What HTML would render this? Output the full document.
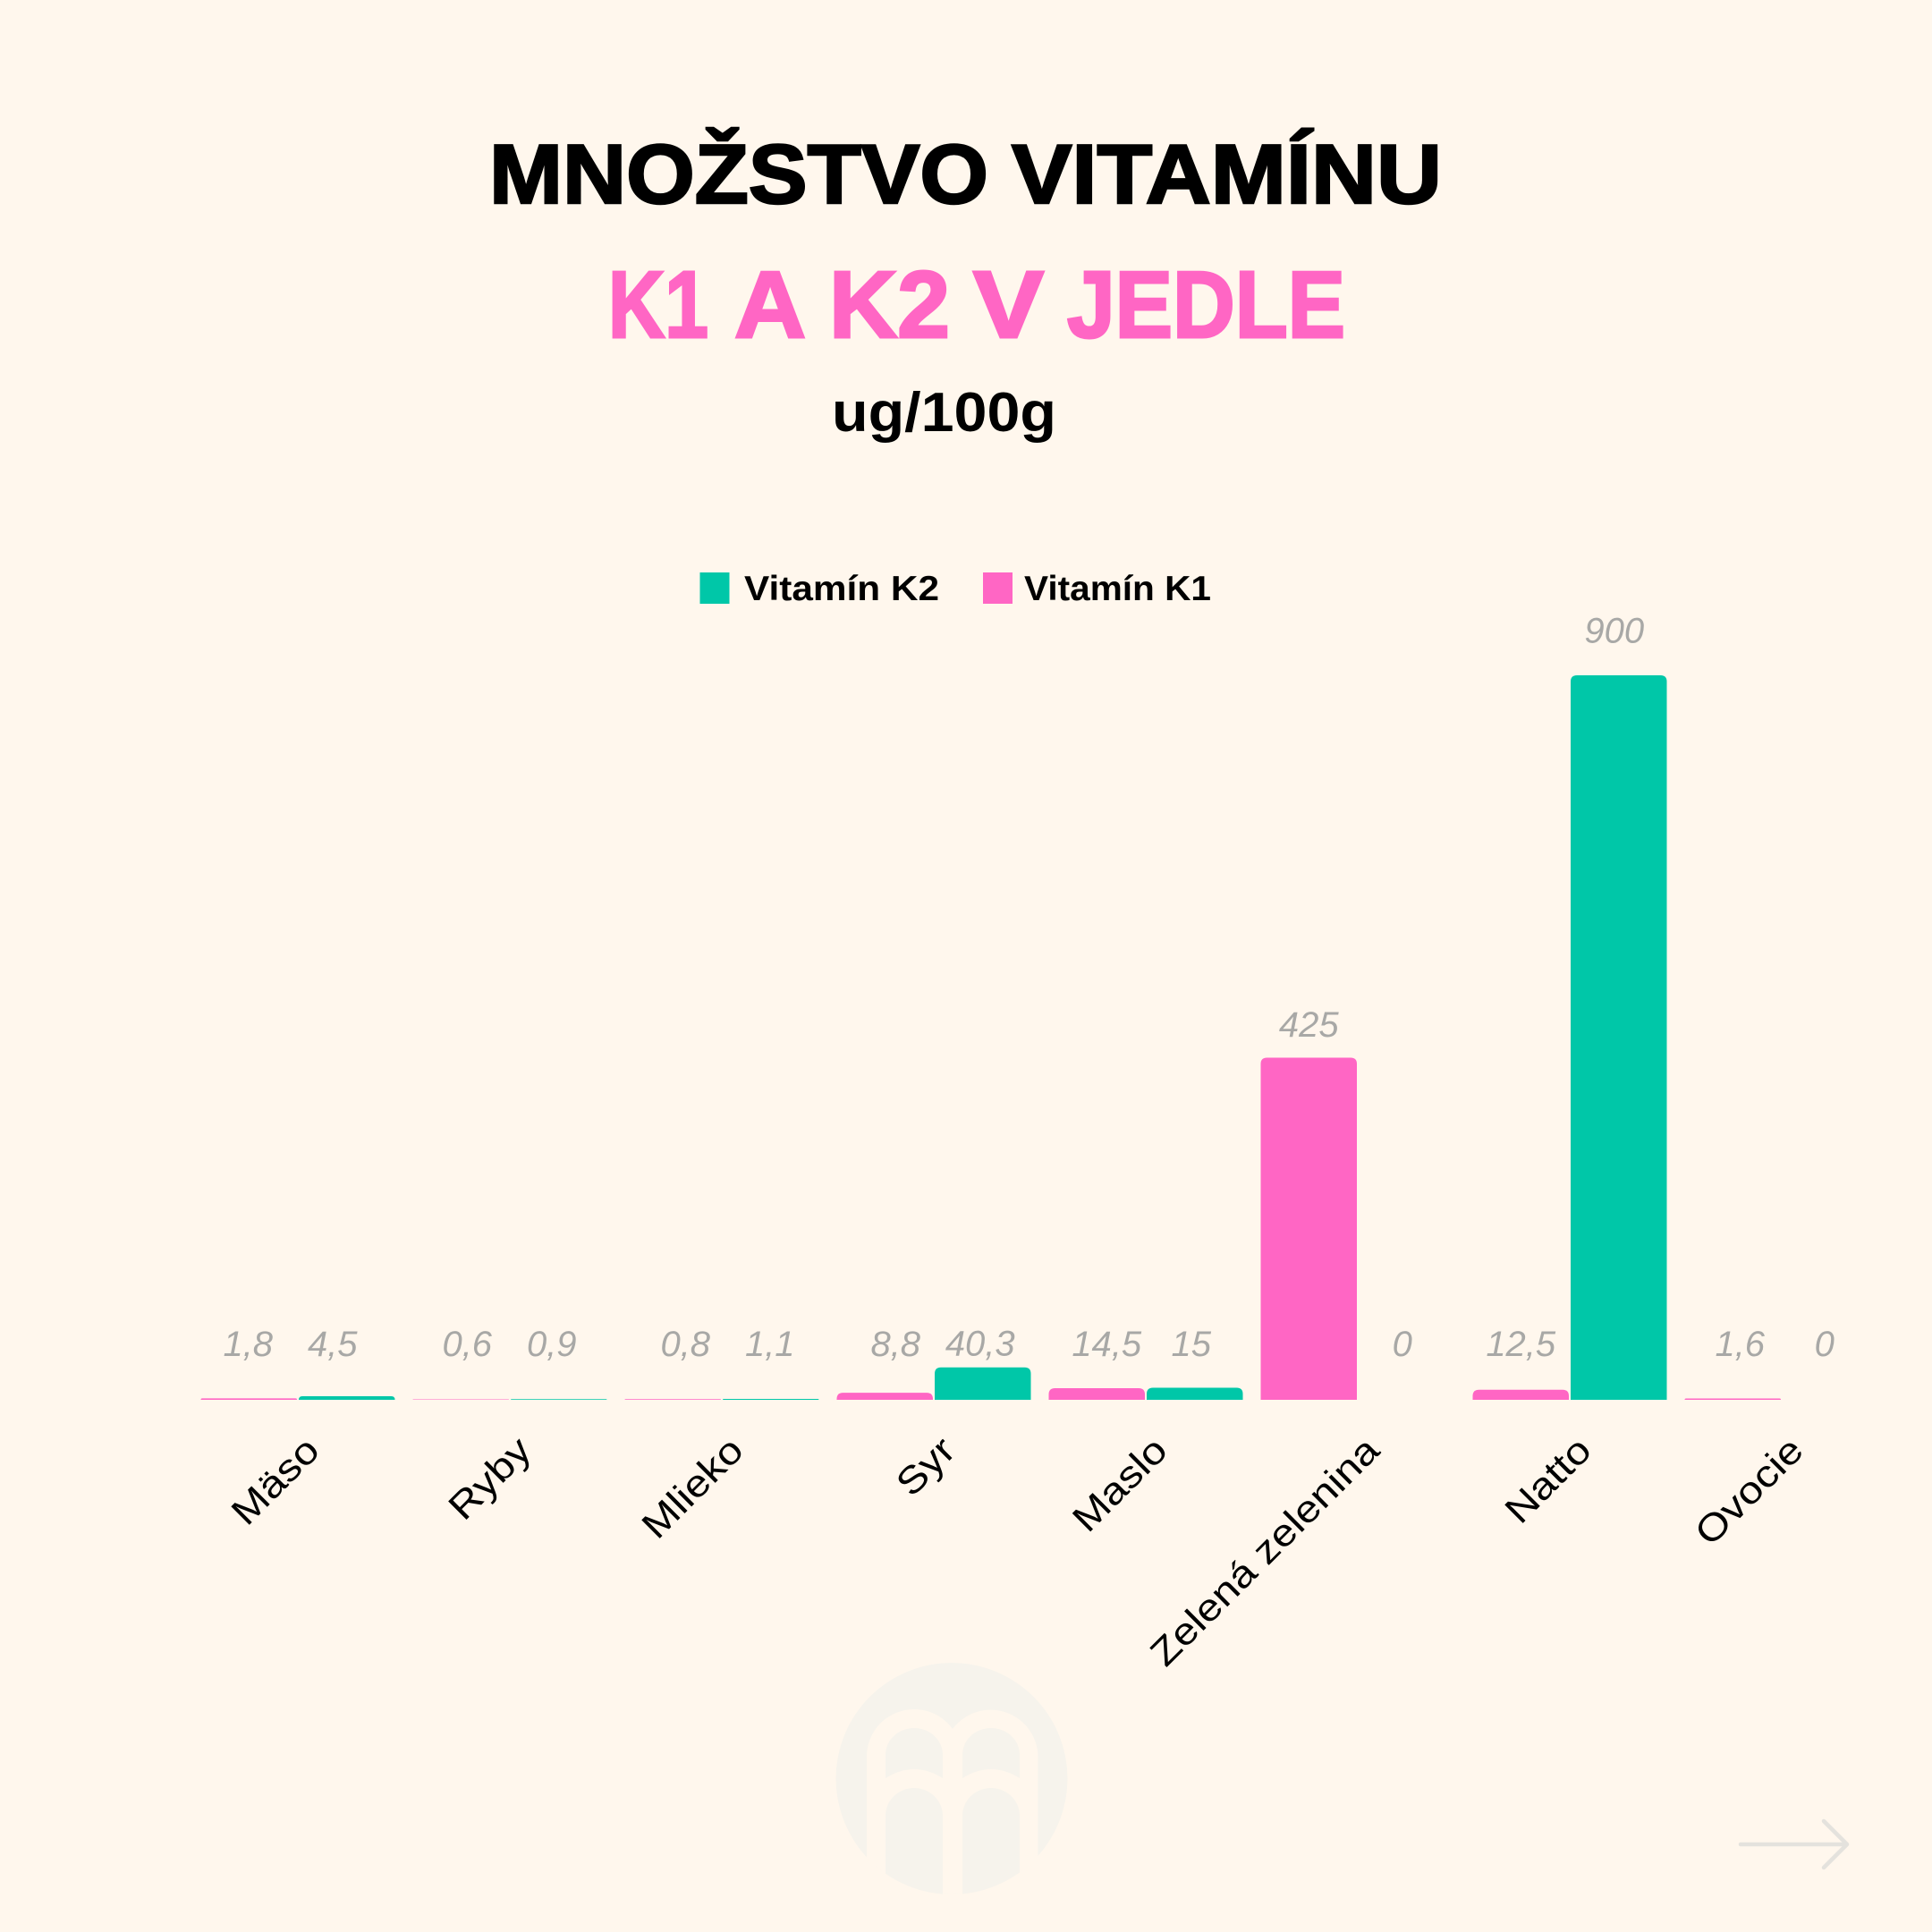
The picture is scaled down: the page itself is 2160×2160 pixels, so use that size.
<!DOCTYPE html>
<html lang="sk">
<head>
<meta charset="utf-8">
<title>Množstvo vitamínu K1 a K2 v jedle</title>
<style>
  html, body { margin: 0; padding: 0; background: #fff7ed; }
  svg { display: block; font-family: "Liberation Sans", sans-serif; }
</style>
</head>
<body>
<svg id="chart" xmlns="http://www.w3.org/2000/svg" width="2160" height="2160" viewBox="0 0 2160 2160">
  <defs>
    <clipPath id="logo-clip"><circle cx="1064" cy="1988.5" r="129.5"/></clipPath>
  </defs>
  <rect x="0" y="0" width="2160" height="2160" fill="#fff7ed"/>

  <text y="227" font-size="94" font-weight="700" fill="#000" stroke="#000" stroke-width="2.5"><tspan x="547" textLength="558" lengthAdjust="spacingAndGlyphs">MNOŽSTVO</tspan> <tspan x="1131" textLength="481" lengthAdjust="spacingAndGlyphs">VITAMÍNU</tspan></text>
  <text y="377" font-size="106" font-weight="700" fill="#ff66c4" stroke="#ff66c4" stroke-width="3"><tspan x="680" textLength="112" lengthAdjust="spacingAndGlyphs">K1</tspan> <tspan x="821" textLength="76" lengthAdjust="spacingAndGlyphs">A</tspan> <tspan x="927" textLength="135" lengthAdjust="spacingAndGlyphs">K2</tspan> <tspan x="1088" textLength="79" lengthAdjust="spacingAndGlyphs">V</tspan> <tspan x="1193" textLength="311" lengthAdjust="spacingAndGlyphs">JEDLE</tspan></text>
  <text x="930" y="482" font-size="62" font-weight="700" fill="#000" textLength="251" lengthAdjust="spacingAndGlyphs">ug/100g</text>

  <g>
    <rect x="782.5" y="640" width="33" height="35" fill="#00c7a8"/>
    <text x="832" y="671" font-size="39" font-weight="700" fill="#000" textLength="218" lengthAdjust="spacingAndGlyphs">Vitamín K2</text>
    <rect x="1099" y="640" width="33" height="35" fill="#ff66c4"/>
    <text x="1145" y="671" font-size="39" font-weight="700" fill="#000" textLength="209" lengthAdjust="spacingAndGlyphs">Vitamín K1</text>
  </g>

  <g id="bars"></g>
  <g id="value-labels"></g>
  <g id="x-axis"></g>

  <g>
    <g clip-path="url(#logo-clip)">
      <circle cx="1064" cy="1988.5" r="129.5" fill="#f6f3ec"/>
      <path fill="#fff7ed" d="M969 2130 V1965 A53 53 0 0 1 1065 1933 A53 53 0 0 1 1160.5 1965 V2130 Z"/>
      <path fill="#f6f3ec" d="M990 1988 V1962 A32 30 0 0 1 1054 1962 V1988 Q1022 1968 990 1988 Z"/>
      <path fill="#f6f3ec" d="M1076 1988 V1962 A32 30 0 0 1 1140 1962 V1988 Q1108 1968 1076 1988 Z"/>
      <path fill="#f6f3ec" d="M990 2030 A32 31 0 0 1 1054 2030 V2130 H990 Z"/>
      <path fill="#f6f3ec" d="M1076 2030 A32 31 0 0 1 1140 2030 V2130 H1076 Z"/>
    </g>
  </g>

  <g fill="none" stroke="#e4e2dd" stroke-width="4.5" stroke-linecap="round" stroke-linejoin="round">
    <path d="M1946 2062 H2063"/>
    <path d="M2039 2036 L2065 2062 L2039 2088"/>
  </g>
</svg>

<script>
// ---- chart data ----
const categories = ["Mäso", "Ryby", "Mlieko", "Syr", "Maslo", "Zelená zelenina", "Natto", "Ovocie"];
const vitaminK1 = [1.8, 0.6, 0.8, 8.8, 14.5, 425, 12.5, 1.6];
const vitaminK2 = [4.5, 0.9, 1.1, 40.3, 15, 0, 900, 0];
const k1Labels = ["1,8", "0,6", "0,8", "8,8", "14,5", "425", "12,5", "1,6"];
const k2Labels = ["4,5", "0,9", "1,1", "40,3", "15", "0", "900", "0"];

// ---- hand-placed label nudges from the design (not data) ----
const k1LabelNudge = [-1, 7, 14, 12, 11, 0, 0, 8];
const k2LabelNudge = [-16, -8, -1, -3, -4, -5, -5, -7];

// ---- layout ----
const SVG_NS = "http://www.w3.org/2000/svg";
const plotLeft = 215, bandStep = 237, barWidth = 107.5, barGap = 2, barPad = 9.5;
const baselineY = 1565, pxPerUnit = 0.9, radius = 7;
const lowLabelY = 1516;

function xBand(i) { return plotLeft + i * bandStep; }
function yVal(v) { return baselineY - v * pxPerUnit; }
function barX(i, s) { return xBand(i) + barPad + s * (barWidth + barGap); }

function barPath(x, v) {
  const top = yVal(v), h = baselineY - top, r = Math.min(radius, h);
  return "M" + x + " " + baselineY + " V" + (top + r) +
    " Q" + x + " " + top + " " + (x + r) + " " + top +
    " H" + (x + barWidth - r) +
    " Q" + (x + barWidth) + " " + top + " " + (x + barWidth) + " " + (top + r) +
    " V" + baselineY + " Z";
}

const barsGroup = document.getElementById("bars");
const labelsGroup = document.getElementById("value-labels");
const axisGroup = document.getElementById("x-axis");

function addBar(i, s, v, color, name) {
  const p = document.createElementNS(SVG_NS, "path");
  p.setAttribute("d", barPath(barX(i, s), v));
  p.setAttribute("fill", color);
  
  
  barsGroup.appendChild(p);
}

function addValueLabel(i, s, v, text, nudge, name) {
  const t = document.createElementNS(SVG_NS, "text");
  const top = yVal(v);
  const y = Math.min(lowLabelY, top - 12 - 0.03 * (baselineY - top));
  t.setAttribute("x", barX(i, s) + barWidth / 2 + nudge);
  t.setAttribute("y", y);
  t.setAttribute("text-anchor", "middle");
  t.setAttribute("font-size", "40");
  t.setAttribute("font-style", "italic");
  t.setAttribute("fill", "#a8a8a6");
  
  
  t.textContent = text;
  labelsGroup.appendChild(t);
}

function addCategory(i, text) {
  const t = document.createElementNS(SVG_NS, "text");
  const x = xBand(i) + bandStep / 2 + 26;
  const y = 1624;
  t.setAttribute("transform", "translate(" + x + " " + y + ") rotate(-45) scale(1.15 1)");
  t.setAttribute("text-anchor", "end");
  t.setAttribute("font-size", "42");
  t.setAttribute("fill", "#000");
  
  
  t.textContent = text;
  axisGroup.appendChild(t);
}

categories.forEach(function (c, i) {
  addBar(i, 0, vitaminK1[i], "#ff66c4", "bar-k1");
  addBar(i, 1, vitaminK2[i], "#00c7a8", "bar-k2");
  addValueLabel(i, 0, vitaminK1[i], k1Labels[i], k1LabelNudge[i], "value-label-k1");
  addValueLabel(i, 1, vitaminK2[i], k2Labels[i], k2LabelNudge[i], "value-label-k2");
  addCategory(i, c);
});
</script>
</body>
</html>
